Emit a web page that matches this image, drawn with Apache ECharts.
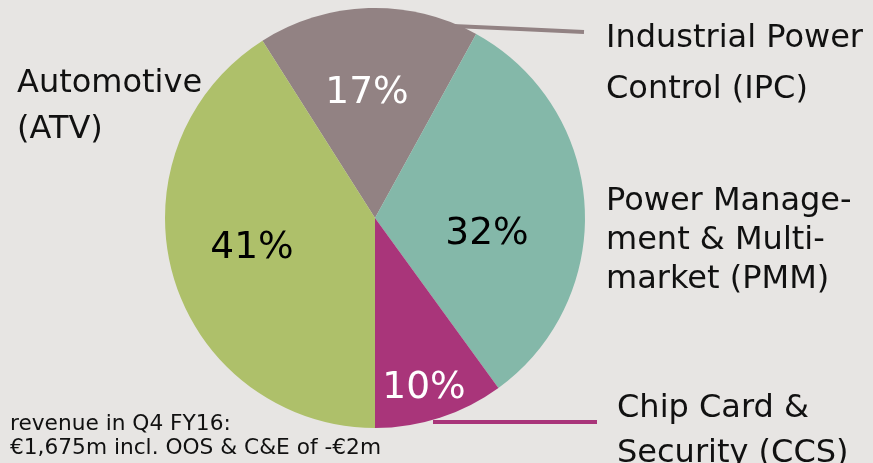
<!DOCTYPE html>
<html>
<head>
<meta charset="utf-8">
<script src="https://cdn.jsdelivr.net/npm/echarts@6/dist/echarts.min.js"></script>
<style>
  html, body { margin: 0; padding: 0; background: #e7e5e3; }
  #chart { width: 873px; height: 463px; }
</style>
</head>
<body>
<div id="chart"></div>
<script>
// segments, clockwise from the IPC slice
var segments = ['Industrial Power\nControl (IPC)', 'Power Manage-\nment & Multi-\nmarket (PMM)', 'Chip Card &\nSecurity (CCS)', 'Automotive\n(ATV)'];
var shares = [17, 32, 10, 41];
var note = 'revenue in Q4 FY16:\n€1,675m incl. OOS & C&E of -€2m';

// styling
var colors = ['#928283', '#84b8a9', '#a9357a', '#aec06a'];
var pctColors = ['#fff', '#000', '#fff', '#000'];
var pctPos = [[367, 93], [487, 234], [424, 388], [252, 248]];   // percent label centres
var namePos = [[606, 64], [606, 241], [617, 431], [17, 107]];    // name block left / middle
var nameLineHeight = [51, 39, 45, 46];
var leaderLines = {
  0: [[453, 26], [520, 29], [584, 32]],
  2: [[433, 422], [515, 422], [597, 422]]
};

var font = 'DejaVu Sans, Verdana, sans-serif';
var center = [375, 218];
var radius = 210;

var chart = echarts.init(document.getElementById('chart'));

var pctData = shares.map(function (v, i) {
  return {
    value: v,
    name: segments[i],
    itemStyle: { color: colors[i] },
    label: { color: pctColors[i] }
  };
});

var nameData = shares.map(function (v, i) {
  return {
    value: v,
    name: segments[i],
    label: { lineHeight: nameLineHeight[i] },
    labelLine: {
      show: !!leaderLines[i],
      lineStyle: { color: colors[i], width: 4 }
    }
  };
});

chart.setOption({
  backgroundColor: '#e7e5e3',
  animation: false,
  title: {
    text: note,
    left: 10,
    top: 412,
    padding: 0,
    textStyle: {
      fontFamily: font,
      fontSize: 21.7,
      fontWeight: 'normal',
      color: '#111',
      lineHeight: 24
    }
  },
  series: [
    {
      type: 'pie',
      center: center,
      radius: radius,
      startAngle: 122.4,
      clockwise: true,
      silent: true,
      data: pctData,
      label: {
        show: true,
        position: 'inside',
        formatter: '{c}%',
        fontFamily: font,
        fontSize: 37.5
      },
      labelLine: { show: false },
      labelLayout: function (p) {
        return {
          x: pctPos[p.dataIndex][0],
          y: pctPos[p.dataIndex][1],
          align: 'center',
          verticalAlign: 'middle'
        };
      }
    },
    {
      type: 'pie',
      center: center,
      radius: radius,
      startAngle: 122.4,
      clockwise: true,
      silent: true,
      z: 3,
      itemStyle: { color: 'rgba(0,0,0,0)' },
      data: nameData,
      label: {
        show: true,
        position: 'outside',
        formatter: '{b}',
        fontFamily: font,
        fontSize: 32,
        color: '#111',
        overflow: 'none',
        width: 300
      },
      labelLine: { show: false },
      labelLayout: function (p) {
        var i = p.dataIndex;
        var out = {
          x: namePos[i][0],
          y: namePos[i][1],
          align: 'left',
          verticalAlign: 'middle'
        };
        if (leaderLines[i]) out.labelLinePoints = leaderLines[i];
        return out;
      }
    }
  ]
});
</script>
</body>
</html>
